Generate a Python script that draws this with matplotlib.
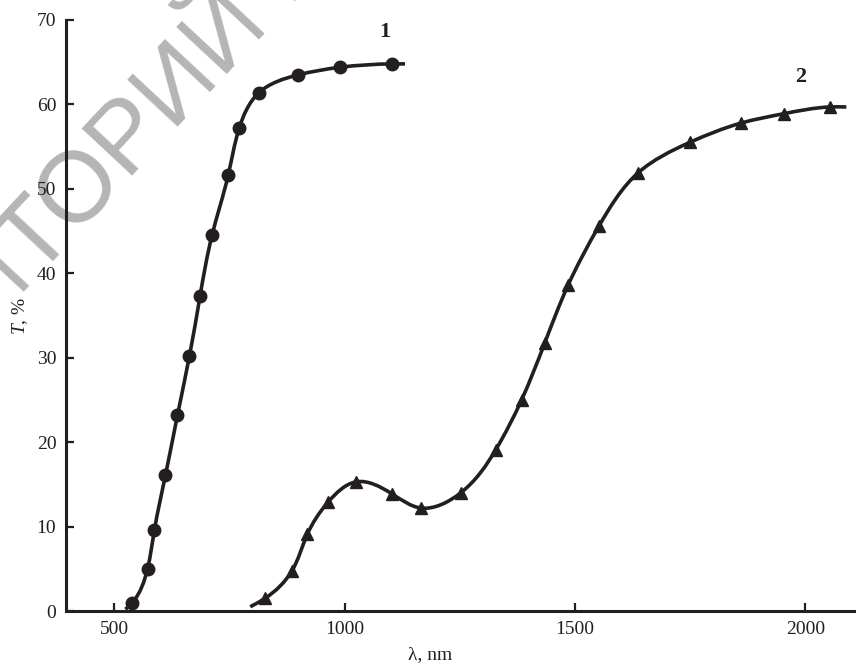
import numpy as np
import matplotlib
matplotlib.use("Agg")
import matplotlib.pyplot as plt
from matplotlib.path import Path
from matplotlib.patches import PathPatch

plt.rcParams['font.family'] = ['Liberation Serif', 'DejaVu Serif']
plt.rcParams['mathtext.fontset'] = 'custom'
plt.rcParams['mathtext.rm'] = 'Liberation Serif'
plt.rcParams['mathtext.it'] = 'Liberation Serif:italic'

# curve 1 (circles)
lam1 = [539, 572, 587, 611, 637, 663, 686, 712, 747, 771, 814, 899, 990, 1103]
T1 = [1.0, 5.0, 9.6, 16.1, 23.2, 30.2, 37.3, 44.5, 51.6, 57.2, 61.4, 63.5, 64.4, 64.8]
line1_start = (524, 0.2)
line1_end = (1131, 64.8)

# curve 2 (triangles)
lam2 = [827, 885, 919, 964, 1025, 1102, 1165, 1252, 1328, 1384, 1434, 1485,
        1552, 1637, 1749, 1861, 1953, 2054]
T2 = [1.5, 4.7, 9.1, 12.9, 15.3, 13.9, 12.2, 14.0, 19.1, 25.0, 31.7, 38.6,
      45.6, 51.9, 55.5, 57.8, 58.9, 59.7]
line2_start = (795, 0.5)
line2_end = (2089, 59.7)

xticks = [500, 1000, 1500, 2000]
yticks = [0, 10, 20, 30, 40, 50, 60, 70]

INK = '#231f20'


def natural_second(t, v):
    # second derivatives of a natural cubic spline through (t, v)
    n = len(t)
    h = np.diff(t)
    A = np.zeros((n, n))
    r = np.zeros(n)
    A[0, 0] = A[-1, -1] = 1.0
    for i in range(1, n - 1):
        A[i, i - 1] = h[i - 1]
        A[i, i] = 2 * (h[i - 1] + h[i])
        A[i, i + 1] = h[i]
        r[i] = 6 * ((v[i + 1] - v[i]) / h[i] - (v[i] - v[i - 1]) / h[i - 1])
    return np.linalg.solve(A, r)


def smooth_path(xs, ys, scale=(0.46, 8.45)):
    # smooth curve through the points, drawn as cubic Bezier segments
    S = np.array(scale)
    Q = np.column_stack([xs, ys]) * S
    t = np.concatenate([[0], np.cumsum(np.linalg.norm(np.diff(Q, axis=0), axis=1))])
    h = np.diff(t)
    M = np.column_stack([natural_second(t, Q[:, 0]), natural_second(t, Q[:, 1])])
    verts = [Q[0]]
    codes = [Path.MOVETO]
    for i in range(len(Q) - 1):
        sl = (Q[i + 1] - Q[i]) / h[i]
        d0 = sl - h[i] * (2 * M[i] + M[i + 1]) / 6
        d1 = sl + h[i] * (M[i] + 2 * M[i + 1]) / 6
        verts += [Q[i] + d0 * h[i] / 3, Q[i + 1] - d1 * h[i] / 3, Q[i + 1]]
        codes += [Path.CURVE4] * 3
    return Path(np.array(verts) / S, codes)


fig = plt.figure(figsize=(8.56, 6.68), dpi=100)
ax = fig.add_axes([66 / 856, 1 - 611 / 668, 1 - 66 / 856, (611 - 20) / 668])
ax.set_facecolor('none')

# watermark
fig.text(112 / 856, 1 - 160 / 668, 'РЕПОЗИТОРИЙ БГУИР', family=['Liberation Sans', 'DejaVu Sans'],
         fontsize=72, color='#b5b5b5', rotation=47, rotation_mode='anchor',
         ha='center', va='center', zorder=-5)

for lam, T, s, e, mk, ms in [(lam1, T1, line1_start, line1_end, 'o', 9),
                             (lam2, T2, line2_start, line2_end, '^', 8)]:
    xs = [s[0]] + lam + [e[0]]
    ys = [s[1]] + T + [e[1]]
    ax.add_patch(PathPatch(smooth_path(xs, ys), fill=False, lw=2.6, ec=INK,
                           capstyle='butt', zorder=2))
    ax.plot(lam, T, ls='none', marker=mk, ms=ms, color=INK, zorder=3)

ax.text(1088, 68.6, '1', fontsize=16, fontweight='bold', color=INK, ha='center', va='center')
ax.text(1990, 63.2, '2', fontsize=16, fontweight='bold', color=INK, ha='center', va='center')

ax.set_xlim(395, 2110)
ax.set_ylim(0, 70)
ax.set_xticks(xticks)
ax.set_yticks(yticks)
for side in ['top', 'right']:
    ax.spines[side].set_visible(False)
for side in ['left', 'bottom']:
    ax.spines[side].set_linewidth(2.2)
    ax.spines[side].set_color(INK)
ax.tick_params(direction='in', length=6, width=1.6, color=INK, labelsize=14,
               labelcolor=INK, pad=7)

ax.set_xlabel('λ, nm', fontsize=14, color=INK, va='center')
ax.xaxis.set_label_coords(0.461, -0.074)
ax.set_ylabel('$T$, %', fontsize=14, color=INK, va='center')
ax.yaxis.set_label_coords(-0.058, 0.5)

fig.savefig('out.png', dpi=100)
